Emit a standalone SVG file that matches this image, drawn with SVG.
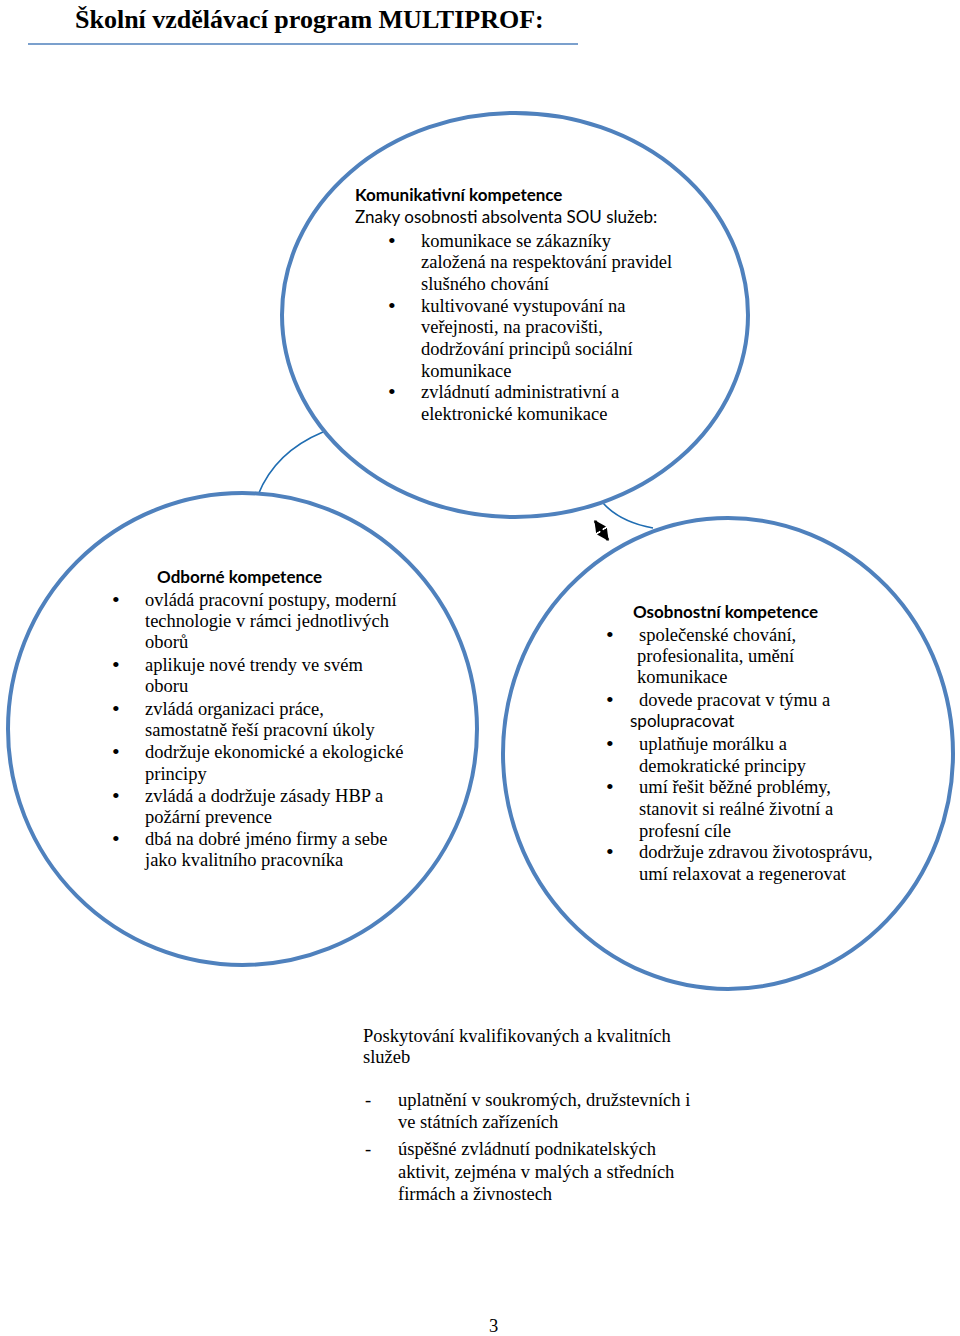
<svg xmlns="http://www.w3.org/2000/svg" width="960" height="1336" viewBox="0 0 960 1336">
<defs>
<style>
.circ{fill:#ffffff;stroke:#4f81bd;stroke-width:4}
.ser{font-family:"Liberation Serif","Times New Roman",serif;font-size:18.5px;fill:#000}
.bul{font-family:"Liberation Serif","Times New Roman",serif;font-size:22px;fill:#000}
.sans{font-family:Lato,"Liberation Sans",sans-serif;font-size:17px;fill:#000}
.hd{font-family:Lato,"Liberation Sans",sans-serif;font-size:17px;font-weight:bold;fill:#000}
.title{font-family:"Liberation Serif","Times New Roman",serif;font-size:26px;font-weight:bold;fill:#000}
.conn{fill:none;stroke:#1f6db2;stroke-width:1.6}
</style>
<marker id="ah" viewBox="0 0 10 10" refX="9" refY="5" markerWidth="4" markerHeight="4" orient="auto-start-reverse" markerUnits="strokeWidth">
<path d="M0,0 L10,5 L0,10 z" fill="#000"/>
</marker>
</defs>
<rect width="960" height="1336" fill="#ffffff"/>
<g id="title">
<text class="title" x="75" y="28">Školní vzdělávací program MULTIPROF:</text>
<line x1="28" y1="44" x2="578" y2="44" stroke="#4f81bd" stroke-width="1.5"/>
</g>
<g id="connectors">
<path class="conn" d="M258,495 Q275,452 323,432"/>
<path class="conn" d="M603,503 Q620,522 653,528"/>
<line x1="595" y1="521" x2="608" y2="540" stroke="#000" stroke-width="3" marker-start="url(#ah)" marker-end="url(#ah)"/>
</g>
<g id="node-komunikativni">
<ellipse class="circ" cx="515" cy="315" rx="233" ry="202"/>
<text class="hd" x="355" y="201">Komunikativní kompetence</text>
<text class="sans" x="355" y="223">Znaky osobnosti absolventa SOU služeb:</text>
<text class="bul" x="388" y="248">•</text>
<text class="ser" x="421" y="247">komunikace se zákazníky</text>
<text class="ser" x="421" y="268">založená na respektování pravidel</text>
<text class="ser" x="421" y="290">slušného chování</text>
<text class="bul" x="388" y="313">•</text>
<text class="ser" x="421" y="312">kultivované vystupování na</text>
<text class="ser" x="421" y="333">veřejnosti, na pracovišti,</text>
<text class="ser" x="421" y="355">dodržování principů sociální</text>
<text class="ser" x="421" y="377">komunikace</text>
<text class="bul" x="388" y="399">•</text>
<text class="ser" x="421" y="398">zvládnutí administrativní a</text>
<text class="ser" x="421" y="420">elektronické komunikace</text>
</g>
<g id="node-odborne">
<ellipse class="circ" cx="242.5" cy="729" rx="234.5" ry="236"/>
<text class="hd" x="157" y="583">Odborné kompetence</text>
<text class="bul" x="112" y="607">•</text>
<text class="ser" x="145" y="606">ovládá pracovní postupy, moderní</text>
<text class="ser" x="145" y="627">technologie v rámci jednotlivých</text>
<text class="ser" x="145" y="648">oborů</text>
<text class="bul" x="112" y="672">•</text>
<text class="ser" x="145" y="671">aplikuje nové trendy ve svém</text>
<text class="ser" x="145" y="692">oboru</text>
<text class="bul" x="112" y="716">•</text>
<text class="ser" x="145" y="715">zvládá organizaci práce,</text>
<text class="ser" x="145" y="736">samostatně řeší pracovní úkoly</text>
<text class="bul" x="112" y="759">•</text>
<text class="ser" x="145" y="758">dodržuje ekonomické a ekologické</text>
<text class="ser" x="145" y="780">principy</text>
<text class="bul" x="112" y="803">•</text>
<text class="ser" x="145" y="802">zvládá a dodržuje zásady HBP a</text>
<text class="ser" x="145" y="823">požární prevence</text>
<text class="bul" x="112" y="846">•</text>
<text class="ser" x="145" y="845">dbá na dobré jméno firmy a sebe</text>
<text class="ser" x="145" y="866">jako kvalitního pracovníka</text>
</g>
<g id="node-osobnostni">
<ellipse class="circ" cx="728" cy="753.5" rx="225" ry="235.5"/>
<text class="hd" x="633" y="618">Osobnostní kompetence</text>
<text class="bul" x="606" y="642">•</text>
<text class="ser" x="639" y="641">společenské chování,</text>
<text class="ser" x="637" y="662">profesionalita, umění</text>
<text class="ser" x="637" y="683">komunikace</text>
<text class="bul" x="606" y="707">•</text>
<text class="ser" x="639" y="706">dovede pracovat v týmu a</text>
<text class="sans" x="630" y="727">spolupracovat</text>
<text class="bul" x="606" y="751">•</text>
<text class="ser" x="639" y="750">uplatňuje morálku a</text>
<text class="ser" x="639" y="772">demokratické principy</text>
<text class="bul" x="606" y="794">•</text>
<text class="ser" x="639" y="793">umí řešit běžné problémy,</text>
<text class="ser" x="639" y="815">stanovit si reálné životní a</text>
<text class="ser" x="639" y="837">profesní cíle</text>
<text class="bul" x="606" y="859">•</text>
<text class="ser" x="639" y="858">dodržuje zdravou životosprávu,</text>
<text class="ser" x="639" y="880">umí relaxovat a regenerovat</text>
</g>
<g id="node-sluzby">
<text class="ser" x="363" y="1042">Poskytování kvalifikovaných a kvalitních</text>
<text class="ser" x="363" y="1063">služeb</text>
<text class="ser" x="365" y="1106">-</text>
<text class="ser" x="398" y="1106">uplatnění v soukromých, družstevních i</text>
<text class="ser" x="398" y="1128">ve státních zařízeních</text>
<text class="ser" x="365" y="1155">-</text>
<text class="ser" x="398" y="1155">úspěšné zvládnutí podnikatelských</text>
<text class="ser" x="398" y="1178">aktivit, zejména v malých a středních</text>
<text class="ser" x="398" y="1200">firmách a živnostech</text>
</g>
<g id="page-number">
<text class="ser" x="489" y="1332">3</text>
</g>
</svg>
